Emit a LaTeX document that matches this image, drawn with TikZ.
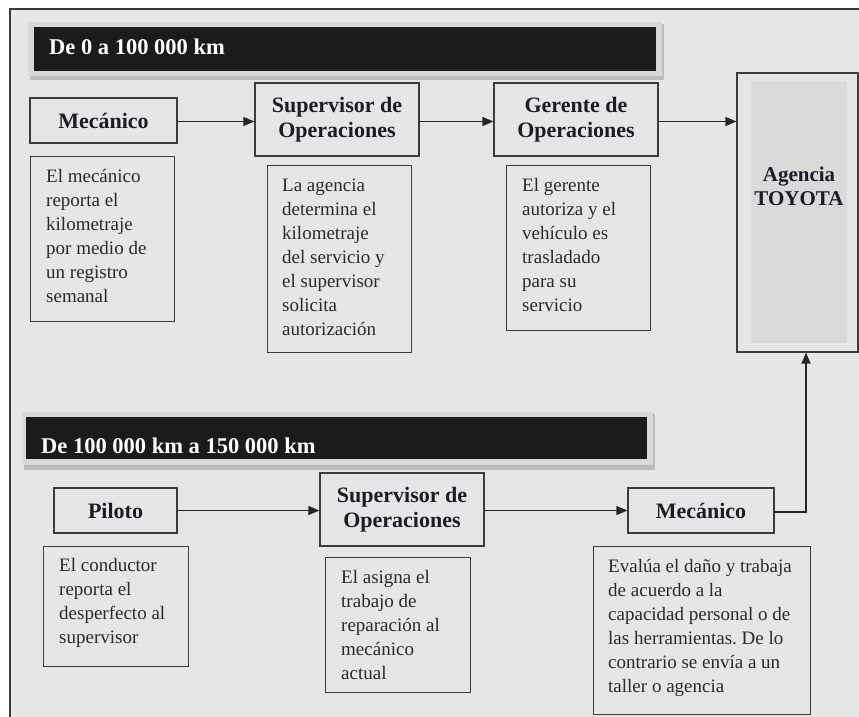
\documentclass[tikz,border=0pt]{standalone}
\usepackage{fontspec}
\setmainfont{Liberation Serif}
\usetikzlibrary{arrows.meta}
\frenchspacing
\definecolor{panel}{HTML}{E6E6E6}
\definecolor{panelline}{HTML}{3A3A3A}
\definecolor{boxline}{HTML}{3C3C3C}
\definecolor{agencyfill}{HTML}{DADADA}
\definecolor{barblack}{HTML}{1B1B1B}
\definecolor{barframe}{HTML}{D8D8D8}
\definecolor{barshadow}{HTML}{BDBDBD}
\definecolor{headtext}{HTML}{1C1C26}
\definecolor{bodytext}{HTML}{2A2A2A}
\tikzset{
  headbox/.style={draw=boxline, line width=1.2pt, fill=panel, align=center,
    inner sep=0pt, text=headtext,
    font=\fontsize{22}{25}\selectfont\bfseries},
  descbox/.style={draw=boxline, line width=1.2pt, fill=panel, inner sep=0pt,
    anchor=north west},
  desctext/.style={anchor=north west, align=left, inner sep=0pt, text=bodytext,
    font=\fontsize{19}{24}\selectfont},
  bartext/.style={anchor=base west, inner sep=0pt, text=white,
    font=\fontsize{22.5}{25}\selectfont\bfseries},
  flow/.style={draw=black!85, line width=1.3pt,
    -{Triangle[length=11pt,width=9pt]}}
}
\begin{document}
\begin{tikzpicture}[x=1pt,y=-1pt]
\useasboundingbox (0,0) rectangle (859,717);
\clip (0,0) rectangle (859,717);

% panel
\fill[panel] (10,9) rectangle (880,740);
\draw[panelline, line width=1.3pt] (10,740) -- (10,9) -- (880,9);

% section bar 1
\fill[barshadow] (30,24) rectangle (664,80);
\fill[barframe] (28,22) rectangle (662,76);
\node[fill=barblack, inner sep=0pt, minimum width=622pt, minimum height=44pt,
  anchor=north west] (bar1) at (34,27) {};
\node[bartext] (bar1t) at (49,55) {De 0 a 100 000 km};

% section bar 2
\fill[barshadow] (24,414) rectangle (655,470);
\fill[barframe] (22,412) rectangle (653,465);
\node[fill=barblack, inner sep=0pt, minimum width=621pt, minimum height=42pt,
  anchor=north west] (bar2) at (26,417) {};
\node[bartext] (bar2t) at (41,453) {De 100 000 km a 150 000 km};

% agency block
\node[draw=boxline, line width=1.2pt, fill=panel, minimum width=121pt,
  minimum height=279pt, inner sep=0pt] (ag) at (797.5,212.5) {};
\node[fill=agencyfill, minimum width=96pt, minimum height=261pt,
  inner sep=0pt] (agin) at (799,212.5) {};
\node[align=center, inner sep=0pt, text=headtext,
  font=\fontsize{21}{24}\selectfont\bfseries] (agt) at (799,186)
  {Agencia\\TOYOTA};

% first row: headers
\node[headbox, minimum width=147pt, minimum height=45pt] (m1) at (103.5,120.5) {Mecánico};
\node[headbox, minimum width=164pt, minimum height=73pt] (s1) at (337,119.5) {Supervisor de\\Operaciones};
\node[headbox, minimum width=164pt, minimum height=73pt] (g1) at (576,119.5) {Gerente de\\Operaciones};

% first row: descriptions (text top = box top + 13)
\node[descbox, minimum width=144pt, minimum height=165pt] (d1) at (30,156) {};
\node[desctext] (d1t) at (46,169) {El mecánico\\reporta el\\kilometraje\\por medio de\\un registro\\semanal};
\node[descbox, minimum width=144pt, minimum height=187pt] (d2) at (267,165) {};
\node[desctext] (d2t) at (282,178.5) {La agencia\\determina el\\kilometraje\\del servicio y\\el supervisor\\solicita\\autorización};
\node[descbox, minimum width=144pt, minimum height=165pt] (d3) at (506,165) {};
\node[desctext] (d3t) at (522,178) {El gerente\\autoriza y el\\vehículo es\\trasladado\\para su\\servicio};

% second row: headers
\node[headbox, minimum width=123pt, minimum height=45pt] (p2) at (115.5,510.5) {Piloto};
\node[headbox, minimum width=164pt, minimum height=73pt] (s2) at (402,509.5) {Supervisor de\\Operaciones};
\node[headbox, minimum width=146pt, minimum height=45pt] (m2) at (701,510.5) {Mecánico};

% second row: descriptions
\node[descbox, minimum width=145pt, minimum height=120pt] (d4) at (43,546) {};
\node[desctext] (d4t) at (59,558) {El conductor\\reporta el\\desperfecto al\\supervisor};
\node[descbox, minimum width=145pt, minimum height=135pt] (d5) at (325,557) {};
\node[desctext] (d5t) at (341,570) {El asigna el\\trabajo de\\reparación al\\mecánico\\actual};
\node[descbox, minimum width=217pt, minimum height=168pt] (d6) at (593,546) {};
\node[desctext] (d6t) at (608,559) {Evalúa el daño y trabaja\\de acuerdo a la\\capacidad personal o de\\las herramientas. De lo\\contrario se envía a un\\taller o agencia};

% connectors
\draw[flow] ([yshift=-1pt]m1.east) -- ([yshift=-1pt]m1.east -| s1.west);
\draw[flow] ([yshift=-2pt]s1.east) -- ([yshift=-2pt]s1.east -| g1.west);
\draw[flow] ([yshift=-2pt]g1.east) -- ([yshift=-2pt]g1.east -| ag.west);
\draw[flow] (p2.east) -- (p2.east -| s2.west);
\draw[flow] ([yshift=-1pt]s2.east) -- ([yshift=-1pt]s2.east -| m2.west);
\draw[flow] ([yshift=-1.5pt]m2.east) -| ([xshift=8.5pt]ag.south);
\end{tikzpicture}
\end{document}
